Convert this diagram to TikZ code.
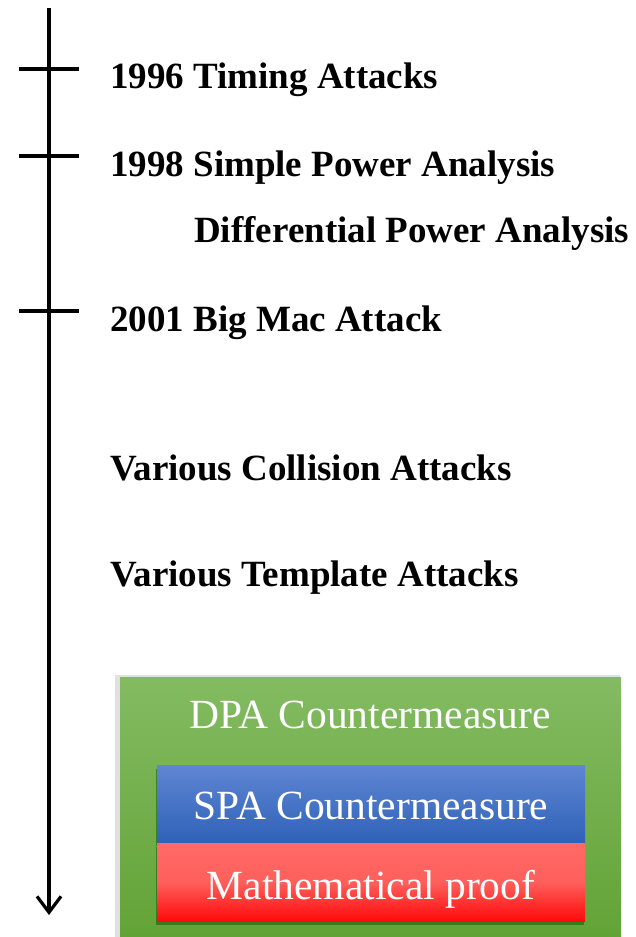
\documentclass[tikz,border=0pt]{standalone}
\usepackage{fontspec}
\setmainfont{Liberation Serif}
\usetikzlibrary{arrows.meta,shadows}
\definecolor{gtop}{HTML}{84BB62}
\definecolor{gbot}{HTML}{62A336}
\definecolor{btop}{HTML}{5F86D2}
\definecolor{bbot}{HTML}{2F62B9}
\definecolor{rtop}{HTML}{FF6A66}
\definecolor{rbot}{HTML}{FF0A0A}
\tikzset{
  evt/.style={anchor=base west, inner sep=0pt, font=\fontsize{37}{40}\selectfont\bfseries},
  tick/.style={line width=3.2pt},
  boxlabel/.style={anchor=base, inner sep=0pt, text=white, font=\fontsize{41.5}{44}\selectfont},
  inner box/.style={drop shadow={shadow xshift=-1pt, shadow yshift=-4pt, opacity=0.45, fill=black!70!green}},
}
\begin{document}
\begin{tikzpicture}[x=1pt,y=-1pt]
\useasboundingbox (0,0) rectangle (635,937);
% timeline
\coordinate (top) at (49,8);
\coordinate (bot) at (49,915);
\draw[line width=3.2pt, -{Straight Barb[length=16pt,width=24pt,line width=3.2pt]}] (top) -- (bot);
\coordinate (t1a) at (19,69); \coordinate (t1b) at (79,69);
\coordinate (t2a) at (19,156); \coordinate (t2b) at (79,156);
\coordinate (t3a) at (19,311); \coordinate (t3b) at (79,311);
\draw[tick] (t1a) -- (t1b);
\draw[tick] (t2a) -- (t2b);
\draw[tick] (t3a) -- (t3b);
% events
\node[evt] (e1) at (110,88) {1996 Timing Attacks};
\node[evt] (e2) at (110,176) {1998 Simple Power Analysis};
\node[evt] (e3) at (194,242) {Differential Power Analysis};
\node[evt] (e4) at (110,331) {2001 Big Mac Attack};
\node[evt] (e5) at (110,480) {Various Collision Attacks};
\node[evt] (e6) at (110,586) {Various Template Attacks};
% green box
\fill[black!12] (115,675) rectangle (620,937);
\shade[top color=gtop, bottom color=gbot] (120,677) rectangle (621,937);
\node[boxlabel] (dpa) at (370,728) {DPA Countermeasure};
% blue box
\shade[inner box, top color=btop, bottom color=bbot] (157,765) rectangle (585,842);
\node[boxlabel] (spa) at (371,819) {SPA Countermeasure};
% red box
\shade[inner box, top color=rtop, bottom color=rbot, middle color=rtop!90!red] (157,843) rectangle (585,921);
\node[boxlabel] (math) at (371,899) {Mathematical proof};
\end{tikzpicture}
\end{document}
